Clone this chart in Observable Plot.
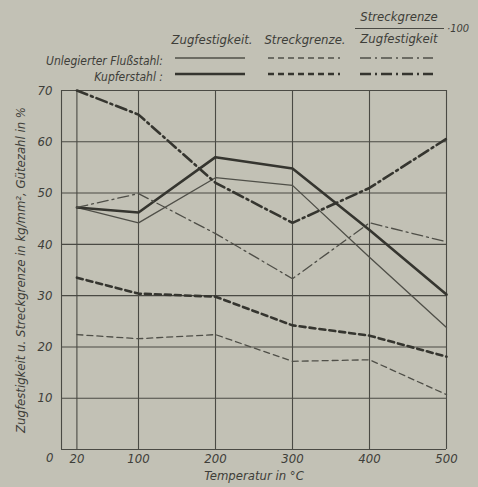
<!DOCTYPE html>
<html><head><meta charset="utf-8">
<script src="https://cdn.jsdelivr.net/npm/d3@7"></script>
<script src="https://cdn.jsdelivr.net/npm/@observablehq/plot@0.6"></script>
<style>
html,body{margin:0;padding:0;background:#c2c1b5;}
#wrap{position:relative;width:478px;height:487px;overflow:hidden;background:#c2c1b5;}
#wrap svg{position:absolute;left:0;top:0;}
.t{font-family:"DejaVu Sans Condensed","DejaVu Sans",sans-serif;font-style:italic;fill:#3e3e39;}
</style></head>
<body><div id="wrap"></div>
<script>
const temps = [20, 100, 200, 300, 400, 500];
const xTicks = [20, 100, 200, 300, 400, 500];
const yTicks = [10, 20, 30, 40, 50, 60, 70];
const zugUnleg     = [47.2, 44.2, 53.0, 51.5, 37.5, 23.8];
const zugKupfer    = [47.2, 46.2, 57.0, 54.8, 42.8, 30.2];
const streckUnleg  = [22.4, 21.6, 22.4, 17.2, 17.5, 10.7];
const streckKupfer = [33.5, 30.4, 29.8, 24.2, 22.2, 18.1];
const guteUnleg    = [47.2, 49.9, 42.1, 33.3, 44.2, 40.5];
const guteKupfer   = [70.0, 65.3, 52.0, 44.2, 51.0, 60.6];

const thin = {stroke:"#4f4f48", strokeWidth:1.3};
const thick = {stroke:"#35352f", strokeWidth:2.6};
const dash = "6,4", dashDot = "11,4,2,4";
const series = [
  {v: zugUnleg, s: thin, d: null},
  {v: zugKupfer, s: thick, d: null},
  {v: streckUnleg, s: thin, d: dash},
  {v: streckKupfer, s: thick, d: dash},
  {v: guteUnleg, s: thin, d: dashDot},
  {v: guteKupfer, s: thick, d: dashDot}
];
const font = '"DejaVu Sans Condensed","DejaVu Sans",sans-serif';

const chart = Plot.plot({
  width: 478, height: 487,
  marginTop: 90, marginLeft: 61, marginRight: 32, marginBottom: 38,
  style: {background: "transparent", fontFamily: font, fontStyle: "italic", fontSize: "13px", color: "#3e3e39"},
  x: {domain: [0, 500]},
  y: {domain: [0, 70]},
  marks: [
    Plot.ruleY([0, ...yTicks], {stroke: "#4a4a44", strokeWidth: 1.1}),
    Plot.ruleX([0, ...xTicks], {stroke: "#4a4a44", strokeWidth: 1.1}),
    ...series.map(sr => Plot.line(temps, {x: d => d, y: (d, i) => sr.v[i], ...sr.s, strokeDasharray: sr.d, strokeLinejoin: "round"})),
    Plot.axisX(xTicks, {tickSize: 0, tickPadding: 4, fontSize: 13, label: "Temperatur in °C", labelAnchor: "center", labelOffset: 30, labelArrow: "none"}),
    Plot.axisY(yTicks, {tickSize: 0, tickPadding: 9, fontSize: 13, label: "Zugfestigkeit u. Streckgrenze in kg/mm², Gütezahl in %", labelAnchor: "center", labelOffset: 46, labelArrow: "none"}),
    Plot.text([0], {x: d => d, y: d => d, text: d => String(d), dx: -8, dy: 8, fontSize: 13, textAnchor: "end"})
  ]
});
document.getElementById("wrap").appendChild(chart);

// legend overlay
const ns = "http://www.w3.org/2000/svg";
const leg = document.createElementNS(ns, "svg");
leg.setAttribute("width", 478); leg.setAttribute("height", 90);
function txt(x, y, s, anchor, size) {
  const t = document.createElementNS(ns, "text");
  t.setAttribute("x", x); t.setAttribute("y", y); t.setAttribute("class", "t");
  t.setAttribute("text-anchor", anchor); t.setAttribute("font-size", size || 12);
  t.setAttribute("dominant-baseline", "middle");
  t.textContent = s; leg.appendChild(t);
}
function ln(x1, x2, y, st, d) {
  const l = document.createElementNS(ns, "line");
  l.setAttribute("x1", x1); l.setAttribute("x2", x2); l.setAttribute("y1", y); l.setAttribute("y2", y);
  l.setAttribute("stroke", st.stroke); l.setAttribute("stroke-width", st.strokeWidth);
  if (d) l.setAttribute("stroke-dasharray", d);
  leg.appendChild(l);
}
txt(163, 61, "Unlegierter Flußstahl:", "end");
txt(163, 77, "Kupferstahl :", "end");
txt(212, 40, "Zugfestigkeit.", "middle", 13);
txt(305, 40, "Streckgrenze.", "middle", 13);
txt(399, 17, "Streckgrenze", "middle", 13);
txt(399, 39, "Zugfestigkeit", "middle", 13);
ln(355, 444, 28.5, {stroke: "#4a4a44", strokeWidth: 1});
txt(447, 29, "·100", "start", 11);
const cols = [[175, 245, null], [268, 340, dash], [360, 433, dashDot]];
cols.forEach(c => { ln(c[0], c[1], 58, thin, c[2]); ln(c[0], c[1], 74, thick, c[2]); });
document.getElementById("wrap").appendChild(leg);
</script></body></html>
